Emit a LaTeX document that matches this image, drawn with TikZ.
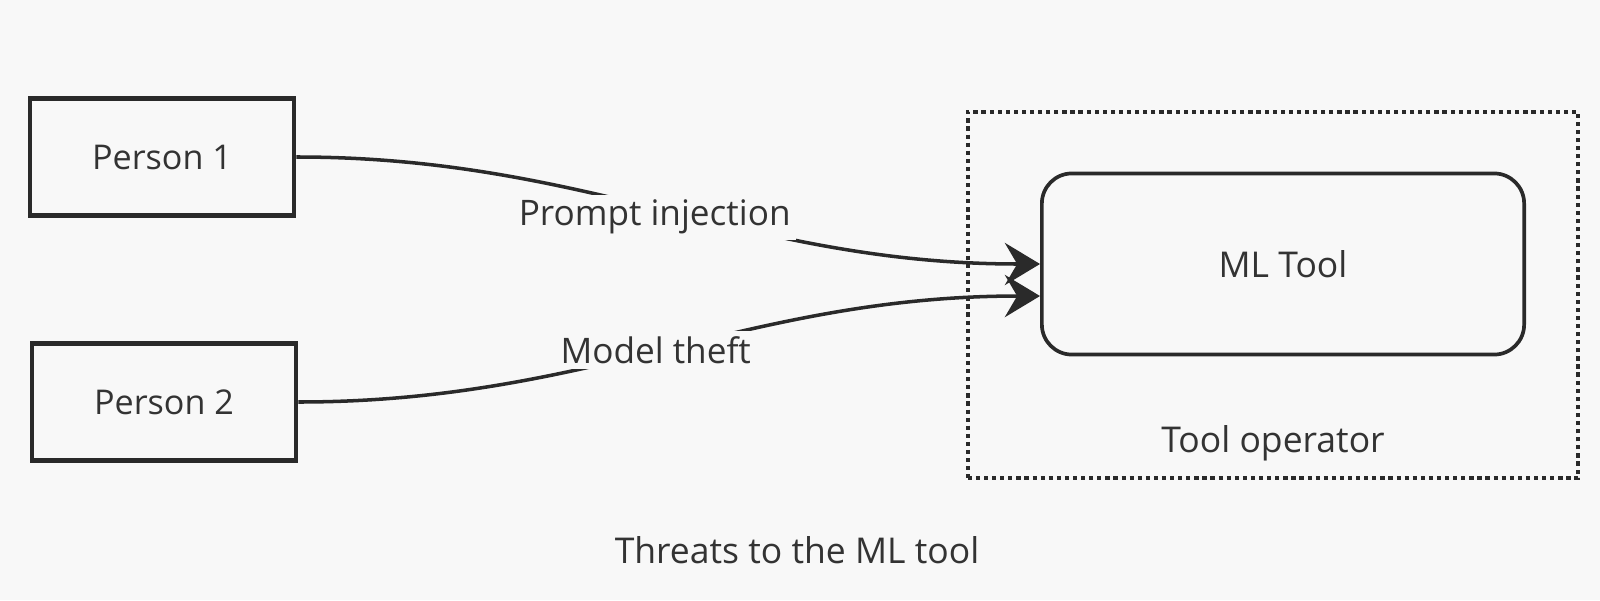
\documentclass[tikz,border=0pt]{standalone}
\usepackage{fontspec}
\setmainfont{Open Sans}
\usepackage{tikz}
\usetikzlibrary{arrows.meta, positioning, calc}
\definecolor{bgcolor}{HTML}{F8F8F8}
\definecolor{inkcolor}{HTML}{2A2A2A}
\definecolor{textcolor}{HTML}{333333}
\tikzset{
  person/.style={
    rectangle, draw=inkcolor, line width=1.3pt,
    minimum width=2.64cm,
    minimum height=1.17cm,
    font=\fontsize{9.7}{11}\selectfont,
    text=textcolor,
    inner sep=0pt
  },
  % Stili per il tool e il confine
  tool/.style={rectangle, rounded corners=0.3cm, draw=inkcolor, line width=1.05pt,
    minimum width=4.82cm, minimum height=1.81cm, font=\fontsize{10.1}{12}\selectfont, text=textcolor},
  boundary/.style={rectangle, draw=inkcolor, line width=1.2pt, dash pattern=on 1.2pt off 1.1pt,
    minimum width=6.1cm, minimum height=3.66cm},
  plaintext/.style={font=\fontsize{10.1}{12}\selectfont, text=textcolor},
  threat/.style={-{Stealth[length=10pt, width=12pt, inset=3.5pt]}, draw=inkcolor, line width=1pt},
  threatlabel/.style={fill=bgcolor, font=\fontsize{10}{12}\selectfont, text=textcolor, inner sep=1.5pt}
}

\begin{document}
\begin{tikzpicture}[x=0.01cm, y=-0.01cm]

% Sfondo
\fill[bgcolor] (0,0) rectangle (1600,600);
\useasboundingbox (0,0) rectangle (1600,600);

% Persone a sinistra
\node[person] (person1) at (162,157) {Person 1};
\node[person] (person2) at (164,402) {Person 2};

% Confine del tool operator
\node[boundary] (operator) at (1273,295) {};
\node[plaintext] (operatorlabel) at (1273,443) {Tool operator};

% ML Tool
\node[tool] (mltool) at (1283,264) {ML Tool};

% Minacce
\draw[threat] (person1.east) to[out=0, in=180] node[threatlabel, pos=0.48, yshift=-0.1cm] {Prompt injection} (mltool.west);
\draw[threat] (person2.east) to[out=0, in=180] node[threatlabel, pos=0.48, yshift=0.02cm] {Model theft} ([yshift=-0.32cm]mltool.west);

% Didascalia
\node[plaintext] (caption) at (797,550) {Threats to the ML tool};

\end{tikzpicture}
\end{document}
